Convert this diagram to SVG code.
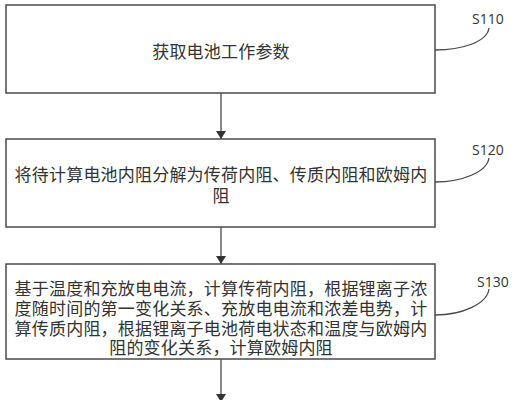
<svg xmlns="http://www.w3.org/2000/svg" width="517" height="400" viewBox="0 0 517 400">
<style>
.box{fill:#fff;stroke:#4a4a4a;stroke-width:1.5}
.t{font-family:"Noto Sans CJK SC","Noto Sans CJK JP",sans-serif;font-size:17px;fill:#333;text-anchor:middle;dominant-baseline:central;letter-spacing:0.2px}
.lbl{font-family:"Open Sans","Liberation Sans",sans-serif;font-size:14px;fill:#333}
.c{fill:none;stroke:#4a4a4a;stroke-width:1.3}
</style>
<defs>
<marker id="ah" markerWidth="8" markerHeight="10" refX="8" refY="5" orient="auto" markerUnits="userSpaceOnUse">
<path d="M0,0 L8,5 L0,10 Z" fill="#333"/>
</marker>
</defs>
<rect width="517" height="400" fill="#fff"/>
<g id="connectors">
<line class="c" x1="221" y1="93" x2="221" y2="139" marker-end="url(#ah)"/>
<line class="c" x1="221" y1="227" x2="221" y2="264" marker-end="url(#ah)"/>
<line class="c" x1="221" y1="359" x2="221" y2="402" marker-end="url(#ah)"/>
<path class="c" d="M435,50 C462,50 487,42 489,28"/>
<path class="c" d="M435,182 C462,182 487,172 489,158"/>
<path class="c" d="M435,315 C462,315 487,304 489,289"/>
</g>
<g id="s110">
<rect class="box" x="6" y="5" width="429" height="88"/>
<text class="t" x="221" y="50">获取电池工作参数</text>
<text class="lbl" x="472" y="24">S110</text>
</g>
<g id="s120">
<rect class="box" x="6" y="139" width="429" height="88"/>
<text class="t" x="221" y="173">将待计算电池内阻分解为传荷内阻、传质内阻和欧姆内</text>
<text class="t" x="221" y="194">阻</text>
<text class="lbl" x="472" y="155">S120</text>
</g>
<g id="s130">
<rect class="box" x="6" y="264" width="429" height="95"/>
<text class="t" x="221" y="287">基于温度和充放电电流，计算传荷内阻，根据锂离子浓</text>
<text class="t" x="221" y="307">度随时间的第一变化关系、充放电电流和浓差电势，计</text>
<text class="t" x="221" y="327">算传质内阻，根据锂离子电池荷电状态和温度与欧姆内</text>
<text class="t" x="221" y="346">阻的变化关系，计算欧姆内阻</text>
<text class="lbl" x="477" y="287">S130</text>
</g>
</svg>
